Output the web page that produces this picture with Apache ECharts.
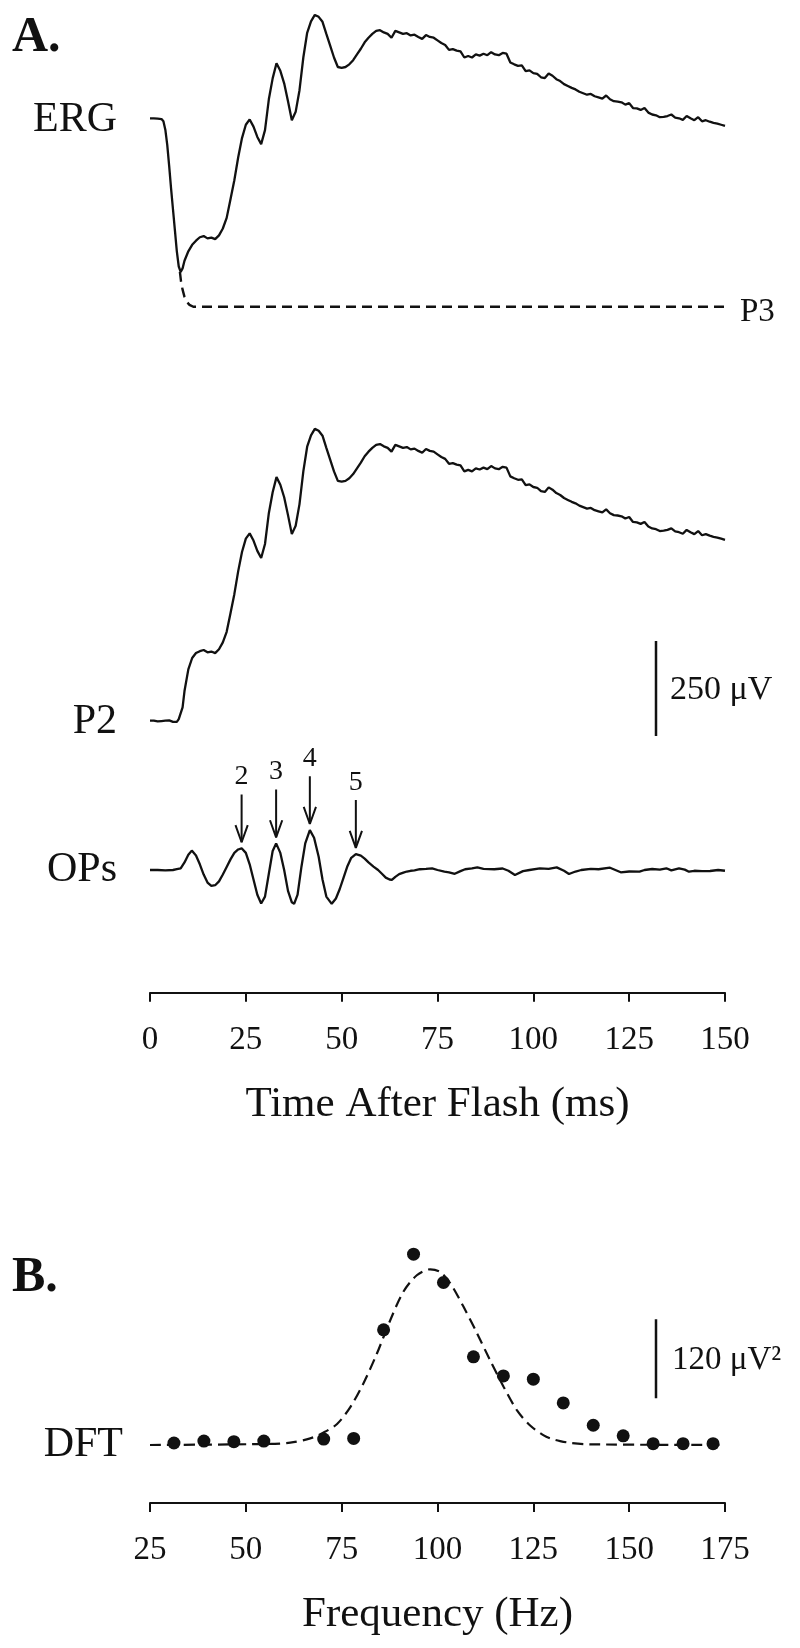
<!DOCTYPE html>
<html>
<head>
<meta charset="utf-8">
<script src="https://cdn.jsdelivr.net/npm/echarts@6/dist/echarts.min.js"></script>
<style>
  html, body { margin: 0; padding: 0; background: #fff; }
  #box { width: 800px; height: 1648px; }
</style>
</head>
<body>
<div id="box"></div>
<script>
// ---- panel A: time after flash (ms), amplitudes in uV relative to each trace start ----
const tA = [0, 1, 2, 3, 3.5, 4, 4.5, 5, 5.5, 6, 6.5, 7, 7.5, 8, 8.5, 9,
  10, 11, 12, 13, 14, 15, 16, 17, 18, 19,
  20, 21, 22, 23, 24, 25, 26, 27, 28, 29,
  30, 31, 32, 33, 34, 35, 36, 37, 38, 39,
  40, 41, 42, 43, 44, 45, 46, 47, 48, 49,
  50, 51, 52, 53, 54, 55, 56, 57, 58, 59,
  60, 61, 62, 63, 64, 65, 66, 67, 68, 69,
  70, 71, 72, 73, 74, 75, 76, 77, 78, 79,
  80, 81, 82, 83, 84, 85, 86, 87, 88, 89,
  90, 91, 92, 93, 94, 95, 96, 97, 98, 99,
  100, 101, 102, 103, 104, 105, 106, 107, 108, 109,
  110, 111, 112, 113, 114, 115, 116, 117, 118, 119,
  120, 121, 122, 123, 124, 125, 126, 127, 128, 129,
  130, 131, 132, 133, 134, 135, 136, 137, 138, 139,
  140, 141, 142, 143, 144, 145, 146, 147, 148, 149,
  150];

const erg = [0, 0, -1, -2, -8, -30, -70, -125, -185, -240, -295, -350, -390, -404, -395, -375,
  -350, -333, -322, -313, -310, -316, -314, -318, -308, -290,
  -262, -213, -163, -103, -52, -17, -3, -22, -49, -68,
  -31, 50, 105, 145, 125, 92, 45, -5, 17, 74,
  160, 225, 255, 272, 267, 254, 222, 191, 160, 135,
  133, 135, 142, 153, 168, 183, 200, 212, 222, 230,
  232, 226, 222, 212, 230, 226, 222, 224, 218, 220,
  214, 209, 219, 214, 212, 205, 198, 193, 180, 182,
  178, 176, 160, 164, 160, 168, 165, 170, 166, 174,
  168, 166, 172, 170, 147, 142, 138, 139, 124, 126,
  119, 117, 108, 106, 118, 112, 103, 98, 90, 85,
  80, 76, 70, 66, 62, 64, 58, 55, 52, 60,
  50, 45, 44, 42, 36, 40, 27, 26, 22, 27,
  15, 10, 8, 3, 4, 6, 10, 2, 0, -4,
  6, 0, -5, 3, -8, -5, -9, -12, -14, -17,
  -20];

const p2 = [0, 0, -2, -1, 2, 0, -2, 1, 0, -3, -2, -3, 4, 8, 35, 78,
  135, 165, 178, 183, 186, 180, 182, 178, 188, 206,
  234, 283, 333, 393, 444, 479, 493, 474, 447, 428,
  465, 546, 601, 641, 621, 588, 541, 491, 513, 570,
  656, 721, 751, 768, 763, 750, 718, 687, 656, 631,
  629, 631, 638, 649, 664, 679, 696, 708, 718, 726,
  728, 722, 718, 708, 726, 722, 718, 720, 714, 716,
  710, 705, 715, 710, 708, 701, 694, 689, 676, 678,
  674, 672, 656, 660, 656, 664, 661, 666, 662, 670,
  664, 662, 668, 666, 643, 638, 634, 635, 620, 622,
  615, 613, 604, 602, 614, 608, 599, 594, 586, 581,
  576, 572, 566, 562, 558, 560, 554, 551, 548, 556,
  546, 541, 540, 538, 532, 536, 523, 522, 518, 523,
  511, 506, 504, 499, 500, 502, 506, 498, 496, 492,
  502, 496, 491, 499, 488, 491, 487, 484, 482, 479,
  476];

const p3T = [7.8, 8.1, 8.5, 9, 9.6, 10.3, 11.3, 150];
const p3 = [-404, -430, -451, -470, -483, -491, -496, -496];

const opT = [0, 2, 4, 6, 7, 8, 9, 10, 10.9,
  12, 13, 14, 15, 16, 17, 18, 19, 20, 21, 22, 23,
  23.9, 25, 26, 27, 28, 29, 30, 31, 32, 32.9,
  34, 35, 36, 37, 37.6, 38.5, 39.5, 40.5, 41.7, 42.8,
  44, 45, 46, 47.4, 48.5, 49.5, 50.5, 51.5, 52.5, 53.7,
  55, 56, 57, 58.3, 59.5, 60.5, 61.5, 62.5, 63.1, 64,
  65, 66.1, 67, 68, 69, 70.4, 72, 73.6, 75, 76.8,
  78, 79.5, 81, 82.2, 84, 85.4, 87, 89.8, 92, 93.5,
  95.2, 97.3, 99, 101.7, 104, 106.1, 108, 109.3, 111, 112.5,
  115, 117, 120, 122.8, 125, 127.7, 129, 131, 133, 134.7,
  136, 138, 139.5, 140.6, 142, 144, 146.1, 148.2, 150];
const ops = [0, 0, -1, 0, 2, 4, 20, 40, 51,
  38, 15, -12, -33, -42, -40, -30, -12, 8, 28, 45, 54,
  57, 45, 15, -25, -65, -88, -70, -10, 50, 70,
  45, 0, -55, -85, -89, -65, 8, 70, 105, 85,
  35, -25, -70, -89, -75, -50, -20, 10, 32, 42,
  38, 30, 20, 9, 0, -10, -20, -25, -26, -18,
  -11, -7, -4, -2, -1, 2, 3, 4.5, 0, -4.5,
  -6, -10, -3, 2, 4, 7, 3, 2, 4, -2,
  -13, -3, 0, 4.5, 3, 7, -2, -10.5, -4, 0,
  3, 2, 6, -6, -4, -4.5, 0, 2.6, 1, 4.5,
  -1, 4.5, 1, -4.5, -2, -3, -2.6, 0, -2];

// OP peaks marked with arrows
const opMarkNames = ['2', '3', '4', '5'];
const opMarkT = [23.9, 32.9, 41.7, 53.7];
const opMarkV = [57, 70, 105, 42];

const timeMin = 0, timeMax = 150, timeStep = 25;

// ---- panel B: DFT power (uV^2) against frequency (Hz) ----
const dftF = [31.25, 39.06, 46.88, 54.69, 70.31, 78.13, 85.94, 93.75, 101.56,
  109.38, 117.19, 125, 132.81, 140.63, 148.44, 156.25, 164.06, 171.88];
const dftP = [3, 6, 5, 6, 9, 10, 175, 290, 247, 134, 105, 100, 64, 30, 14, 2, 2, 2];

const fitF = [25, 55, 61.6, 66.8, 70.3, 73.8, 77.3, 80.7, 84.2, 87.7, 91.1, 94.6, 98.1,
  100.7, 103.3, 106.8, 110.3, 113.7, 117.2, 120.7, 124.1, 127.6, 129.4, 132, 135, 140, 175];
const fitP = [0, 1.5, 3.5, 10, 19, 32, 58, 94, 139, 190, 233, 258, 267,
  263, 246, 210, 170, 129, 89, 53, 30, 15, 10, 6, 3, 1, 0];

const freqMin = 25, freqMax = 175, freqStep = 25;

// scale bars (value of bar foot and length)
const barA = { t: 132, from: -40, len: 250 };
const barB = { f: 157, from: 71, len: 120 };

// ---- layout ----
const ink = '#111';
const serif = '"Liberation Serif", "Times New Roman", serif';
const kA = 0.38;   // px per uV
const kB = 0.658;  // px per uV^2

function band(base, lo, hi, k) {
  return { left: 150, width: 575, top: base - hi * k, height: (hi - lo) * k,
    containLabel: false, outerBoundsMode: 'none' };
}
const yr = [[-540, 300], [-100, 800], [-323, 260], [-88, 360]];
const grids = [
  band(118.3, yr[0][0], yr[0][1], kA),
  band(720.7, yr[1][0], yr[1][1], kA),
  band(870, yr[2][0], yr[2][1], kA),
  band(1445, yr[3][0], yr[3][1], kB)
];

const zip = (xs, ys) => xs.map((x, i) => [x, ys[i]]);

const shownAxis = {
  axisLine: { show: true, onZero: false, lineStyle: { color: ink, width: 2 } },
  axisTick: { show: true, length: 9, lineStyle: { color: ink, width: 2 } },
  axisLabel: { color: ink, fontFamily: serif, fontSize: 33, margin: 31,
    showMinLabel: true, showMaxLabel: true },
  splitLine: { show: false },
  nameLocation: 'middle',
  nameGap: 90,
  nameTextStyle: { color: ink, fontFamily: serif, fontSize: 43 }
};

const xAxis = [
  { gridIndex: 0, type: 'value', min: timeMin, max: timeMax, show: false },
  { gridIndex: 1, type: 'value', min: timeMin, max: timeMax, show: false },
  Object.assign({ gridIndex: 2, type: 'value', min: timeMin, max: timeMax, interval: timeStep,
    name: 'Time After Flash (ms)' }, shownAxis),
  Object.assign({ gridIndex: 3, type: 'value', min: freqMin, max: freqMax, interval: freqStep,
    name: 'Frequency (Hz)' }, shownAxis)
];
const yAxis = yr.map((r, i) => ({ gridIndex: i, type: 'value', min: r[0], max: r[1], show: false }));

function trace(idx, data, extra) {
  return Object.assign({
    type: 'line', xAxisIndex: idx, yAxisIndex: idx, data: data,
    symbol: 'none', showSymbol: false, silent: true,
    lineStyle: { color: ink, width: 2.3 }
  }, extra || {});
}

const series = [
  trace(0, zip(tA, erg)),
  trace(0, zip(p3T, p3), { lineStyle: { color: ink, width: 2.4, type: [10, 6] } }),
  trace(1, zip(tA, p2)),
  trace(1, [[barA.t, barA.from], [barA.t, barA.from + barA.len]], { lineStyle: { color: ink, width: 2.5 } }),
  trace(2, zip(opT, ops)),
  trace(3, zip(fitF, fitP), { smooth: 0.3, lineStyle: { color: ink, width: 2.2, type: [11, 6] } }),
  {
    type: 'scatter', xAxisIndex: 3, yAxisIndex: 3, data: zip(dftF, dftP),
    symbol: 'circle', symbolSize: 13, silent: true, itemStyle: { color: ink, opacity: 1 }
  },
  trace(3, [[barB.f, barB.from], [barB.f, barB.from + barB.len]], { lineStyle: { color: ink, width: 2.5 } })
];

// arrows over the OP peaks
const gap = 16, shaft = 126, headH = 45, headW = 1.6;
opMarkT.forEach((t, i) => {
  const tip = opMarkV[i] + gap;
  series.push(trace(2, [[t, tip + shaft], [t, tip]], { lineStyle: { color: ink, width: 2 } }));
  series.push(trace(2, [[t - headW, tip + headH], [t, tip], [t + headW, tip + headH]],
    { lineStyle: { color: ink, width: 2 } }));
});
series.push({
  type: 'scatter', xAxisIndex: 2, yAxisIndex: 2, silent: true,
  data: opMarkT.map((t, i) => [t, opMarkV[i] + gap + shaft, opMarkNames[i]]),
  symbolSize: 1, itemStyle: { color: 'rgba(0,0,0,0)', opacity: 1 },
  label: { show: true, position: 'top', distance: 3, color: ink, opacity: 1,
    fontFamily: serif, fontSize: 28, formatter: p => p.value[2] }
});

function text(str, x, y, size, align, bold) {
  return {
    type: 'text', x: x, y: y, z: 10, silent: true,
    style: { text: str, fill: ink, fontFamily: serif, fontSize: size,
      fontWeight: bold ? 'bold' : 'normal',
      align: align, textAlign: align, verticalAlign: 'middle', textVerticalAlign: 'middle' }
  };
}

const graphic = [
  text('A.', 12, 38, 50, 'left', true),
  text('ERG', 117, 120, 42, 'right'),
  text('P3', 740, 312, 33, 'left'),
  text('P2', 117, 721.5, 42, 'right'),
  text('250 μV', 670, 690, 34, 'left'),
  text('OPs', 117, 870, 42, 'right'),
  text('B.', 12, 1278, 50, 'left', true),
  text('DFT', 123, 1445, 42, 'right'),
  text('120 μV²', 672, 1360, 33, 'left')
];

const chart = echarts.init(document.getElementById('box'));
chart.setOption({
  animation: false,
  backgroundColor: '#fff',
  textStyle: { fontFamily: serif },
  grid: grids,
  xAxis: xAxis,
  yAxis: yAxis,
  series: series,
  graphic: graphic
});
</script>
</body>
</html>
